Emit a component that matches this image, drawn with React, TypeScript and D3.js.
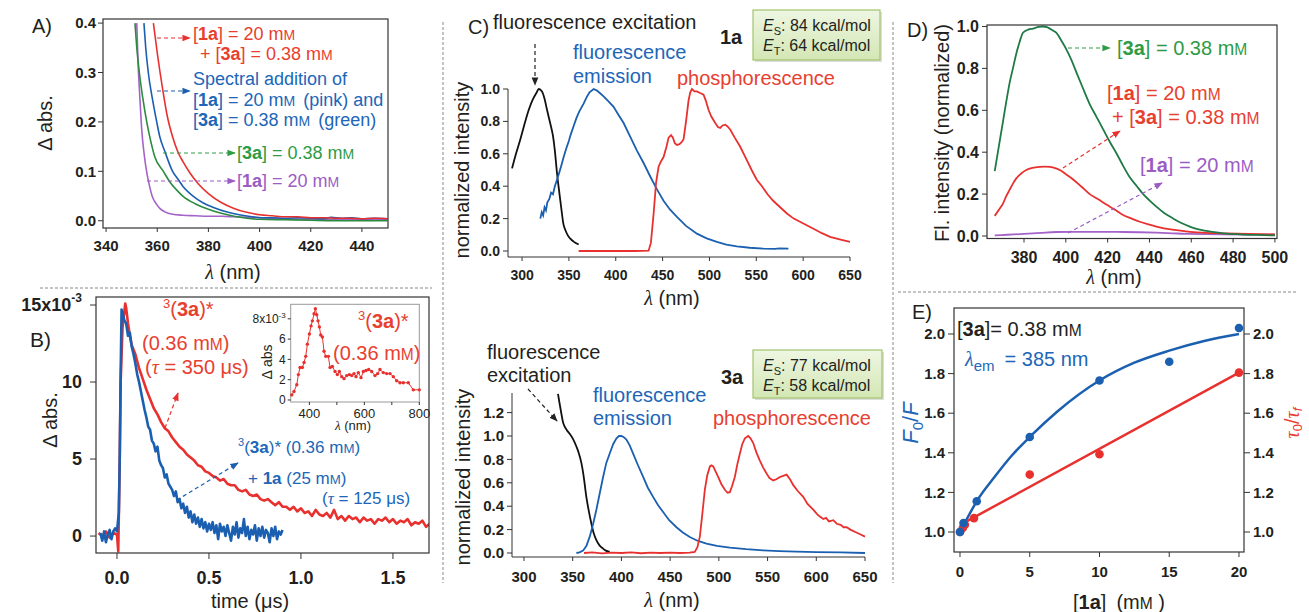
import React from 'react';
import * as d3 from 'd3';

type P = [number, number];

const FONT = "'Liberation Sans', Arial, Helvetica, sans-serif";
const RED = '#e8312f';
const BLUE = '#1b5fb0';
const GREEN = '#2b8c3e';
const DGREEN = '#1f7a45';
const PURPLE = '#a463c9';
const TRED = '#e8402f';
const TBLUE = '#2066b8';
const TGREEN = '#2f9b44';
const TPURPLE = '#9b5cc4';
const INK = '#231f20';

// ---------- Panel A : difference absorption ----------
const aTicksX = [340, 360, 380, 400, 420, 440];
const aTicksY = [0, 0.1, 0.2, 0.3, 0.4];
const aRed: P[] = [[358.5,0.4],[360,0.34],[362,0.27],[364,0.21],[366,0.17],[368,0.14],[370,0.12],[373,0.095],[376,0.075],[380,0.055],[385,0.037],[390,0.025],[395,0.017],[400,0.012],[405,0.01],[410,0.008],[415,0.008],[420,0.006],[425,0.006],[430,0.005],[435,0.005],[440,0.004],[445,0.005],[450,0.004]];
const aBlue: P[] = [[354.8,0.4],[355.5,0.35],[356.5,0.3],[358,0.25],[359.8,0.2],[361,0.17],[363,0.14],[366,0.1],[368,0.085],[370,0.07],[374,0.05],[378,0.036],[382,0.027],[387,0.018],[392,0.012],[397,0.008],[401,0.006],[405,0.006],[410,0.005],[415,0.006],[420,0.005],[425,0.004],[428,0.007],[432,0.005],[436,0.006],[440,0.004],[445,0.005],[450,0.004]];
const aGreen: P[] = [[351.3,0.4],[352,0.35],[353,0.3],[354.3,0.25],[355.9,0.2],[357.5,0.16],[359,0.13],[362.4,0.1],[365,0.078],[368,0.06],[370,0.05],[375,0.034],[380,0.023],[385,0.015],[390,0.009],[395,0.005],[400,0.003],[410,0.002],[420,0.001],[435,0.0],[450,0.0]];
const aPurple: P[] = [[352,0.4],[352.5,0.32],[353.2,0.25],[354,0.18],[355,0.13],[356,0.095],[357,0.07],[358,0.05],[359.5,0.035],[361,0.025],[363,0.018],[366,0.013],[370,0.011],[375,0.010],[380,0.009],[385,0.009],[390,0.008],[395,0.007],[400,0.006],[410,0.004],[420,0.003],[435,0.002],[450,0.002]];

// ---------- Panel B : transient decays ----------
const bTicksX = [0, 0.5, 1.0, 1.5];
const bTicksY = [0, 5, 10, 15];
const bRed: P[] = [[-0.1,0.2],[-0.08,0.0],[-0.06,0.3],[-0.04,-0.1],[-0.02,0.2],[0.0,0.1],[0.007,-1.0],[0.015,5.0],[0.02,10],[0.03,13.5],[0.045,15.1],[0.05,14.8],[0.06,13.8],[0.07,13.0],[0.08,12.4],[0.1,11.8],[0.12,10.9],[0.14,10.2],[0.16,9.5],[0.18,8.9],[0.2,8.3],[0.22,7.9],[0.24,7.4],[0.26,7.0],[0.28,6.8],[0.3,6.4],[0.32,6.1],[0.34,5.8],[0.36,5.6],[0.38,5.3],[0.4,5.1],[0.42,4.9],[0.44,4.6],[0.46,4.5],[0.48,4.2],[0.5,4.1],[0.52,3.9],[0.54,3.8],[0.56,3.6],[0.58,3.7],[0.6,3.4],[0.62,3.3],[0.64,3.3],[0.66,3.0],[0.68,2.9],[0.7,3.0],[0.72,2.7],[0.74,2.6],[0.76,2.7],[0.78,2.4],[0.8,2.3],[0.82,2.4],[0.84,2.2],[0.86,2.0],[0.88,2.2],[0.9,1.9],[0.92,1.9],[0.94,1.7],[0.96,1.9],[0.98,1.6],[1.0,1.8],[1.02,1.5],[1.04,1.6],[1.06,1.3],[1.08,1.7],[1.1,1.4],[1.12,1.3],[1.14,1.5],[1.16,1.2],[1.18,1.7],[1.2,1.1],[1.22,1.3],[1.24,1.0],[1.26,1.3],[1.28,1.1],[1.3,1.2],[1.32,0.9],[1.34,1.2],[1.36,1.0],[1.38,1.1],[1.4,0.8],[1.42,1.1],[1.44,1.0],[1.46,1.2],[1.48,0.9],[1.5,1.1],[1.52,0.8],[1.54,1.0],[1.56,0.9],[1.58,1.1],[1.6,0.7],[1.62,0.9],[1.64,0.8],[1.66,1.0],[1.68,0.6],[1.7,0.8]];
const bBlue: P[] = [[-0.09,0.2],[-0.08,-0.3],[-0.07,0.3],[-0.06,-0.4],[-0.05,0.1],[-0.04,0.4],[-0.03,-0.2],[-0.02,0.3],[-0.01,0.5],[0.0,0.3],[0.01,1.5],[0.015,5.0],[0.02,10.5],[0.025,14.7],[0.03,14.5],[0.04,14.0],[0.05,13.8],[0.06,13.0],[0.07,13.2],[0.08,12.3],[0.09,11.8],[0.1,11.2],[0.11,10.5],[0.12,10.0],[0.13,9.4],[0.14,8.8],[0.15,8.2],[0.16,7.7],[0.17,7.1],[0.18,6.9],[0.19,6.2],[0.2,6.0],[0.21,5.5],[0.22,5.8],[0.23,4.9],[0.24,4.6],[0.25,4.4],[0.26,3.8],[0.27,4.0],[0.28,3.4],[0.29,3.2],[0.3,3.0],[0.31,2.6],[0.32,2.9],[0.33,2.2],[0.34,2.4],[0.35,1.8],[0.36,2.1],[0.37,1.5],[0.38,1.9],[0.39,1.2],[0.4,1.6],[0.41,0.9],[0.42,1.4],[0.43,0.8],[0.44,1.2],[0.45,0.6],[0.46,1.1],[0.47,0.5],[0.48,0.9],[0.49,0.3],[0.5,0.8],[0.51,0.4],[0.52,0.9],[0.53,0.2],[0.54,0.7],[0.55,-0.2],[0.56,0.8],[0.57,0.3],[0.58,0.6],[0.59,0.0],[0.6,0.7],[0.61,0.2],[0.62,-0.3],[0.63,0.6],[0.64,0.1],[0.65,0.9],[0.66,-0.1],[0.67,0.5],[0.68,0.2],[0.69,1.1],[0.7,0.0],[0.71,0.6],[0.72,-0.2],[0.73,0.4],[0.74,0.1],[0.75,0.7],[0.76,-0.3],[0.77,0.5],[0.78,0.0],[0.79,0.6],[0.8,-0.1],[0.81,0.4],[0.82,0.2],[0.83,-0.4],[0.84,0.5],[0.85,0.0],[0.86,0.6],[0.87,-0.2],[0.88,0.3],[0.89,0.1],[0.9,0.4]];
// inset: transient spectrum
const iTicksX = [400, 500, 600, 700, 800];
const iTicksY = [0, 2, 4, 6, 8];
const iSpec: P[] = [[335.8,0.5],[344,0.83],[354,1.5],[360,2.5],[366,3.2],[374.5,3.2],[380.6,3.7],[386.7,4.3],[392.7,5.5],[400,6.5],[406,7.3],[410.9,7.8],[417,8.5],[421.8,9.0],[426.7,8.4],[431.5,7.8],[436.4,7.2],[441.2,6.4],[447.3,6.2],[453.3,4.8],[459.4,4.3],[469,4.3],[475.2,3.2],[483.6,3.3],[493.3,2.8],[501.8,2.5],[509,2.8],[517.6,2.3],[526,2.1],[535.8,2.4],[545.5,2.5],[554,2.4],[562.4,2.6],[569.7,2.3],[578.2,2.7],[587.9,2.2],[596.4,2.8],[606,2.9],[615.8,3.0],[626.7,2.8],[638.8,2.4],[648.5,2.6],[656.9,3.0],[669,2.7],[681.2,2.6],[693.3,2.6],[705.4,2.3],[717.6,1.9],[729.7,1.7],[741.8,1.7],[760,1.7],[778.2,1.0],[800,1.0]];

// ---------- Panel C : spectra of 1a (top) and 3a (bottom) ----------
const cTicksX = [300, 350, 400, 450, 500, 550, 600, 650];
const c1TicksY = [0, 0.2, 0.4, 0.6, 0.8, 1.0];
const c3TicksY = [0, 0.2, 0.4, 0.6, 0.8, 1.0, 1.2];
const c1Exc: P[] = [[289.3,0.51],[293,0.59],[298.2,0.69],[302,0.77],[307.1,0.87],[311,0.93],[315.3,0.975],[317.8,1.0],[321.3,0.985],[324,0.94],[326.7,0.87],[330,0.79],[333,0.71],[335,0.62],[337.3,0.48],[340,0.35],[342.6,0.23],[344,0.17],[346.2,0.13],[349,0.095],[351.5,0.076],[355,0.058],[360.4,0.04]];
const c1Em: P[] = [[319.5,0.20],[321,0.24],[322.5,0.22],[324,0.27],[325.5,0.25],[327,0.30],[329,0.32],[331,0.36],[333,0.35],[335,0.40],[337.3,0.44],[340,0.49],[342,0.53],[344.4,0.58],[347,0.63],[350,0.68],[352,0.72],[355,0.77],[358,0.82],[361,0.86],[365.7,0.91],[369,0.95],[372,0.98],[376.4,1.0],[380,0.99],[383,0.975],[387,0.955],[392,0.925],[397.7,0.89],[403,0.84],[408.4,0.79],[415,0.71],[422.6,0.62],[430,0.54],[436.8,0.46],[444,0.38],[451,0.31],[458,0.255],[465.3,0.21],[475,0.155],[486.6,0.107],[497,0.078],[507.9,0.056],[518,0.04],[529.2,0.029],[543,0.02],[557.6,0.015],[570,0.013],[575,0.016],[584.3,0.015]];
const c1Ph: P[] = [[360.4,0],[380,0],[400,0],[420,0],[435,0.002],[437.5,0.05],[440.4,0.23],[443,0.42],[445.7,0.52],[448,0.55],[451,0.58],[454,0.64],[456.4,0.70],[459,0.715],[461,0.70],[463,0.665],[465.3,0.655],[468,0.66],[470,0.67],[472.4,0.69],[475,0.8],[477.7,0.93],[479.5,0.98],[481.3,1.0],[484,0.985],[486.6,0.985],[490,0.975],[493.7,0.965],[496,0.93],[499.1,0.87],[502,0.83],[506.2,0.79],[509,0.765],[511.5,0.76],[514,0.775],[516.8,0.78],[519,0.77],[522.1,0.75],[527,0.70],[532.7,0.645],[540,0.56],[545,0.5],[550.5,0.44],[556,0.40],[562,0.35],[568,0.31],[575.4,0.27],[583,0.23],[590,0.2],[600.2,0.17],[610,0.14],[620,0.11],[628.7,0.087],[640,0.07],[650,0.056]];
const c3Exc: P[] = [[334.9,1.36],[336.5,1.28],[338.4,1.19],[340,1.12],[341.8,1.08],[344,1.05],[346.9,1.02],[350,0.98],[353.8,0.91],[356,0.86],[358.9,0.77],[361,0.67],[364,0.48],[366.5,0.36],[369.2,0.25],[371.5,0.17],[374.3,0.11],[377.5,0.065],[381.2,0.037],[384,0.02],[388,0.01]];
const c3Em: P[] = [[353.8,0],[357,0.005],[360.6,0.02],[364,0.06],[367.5,0.14],[371,0.25],[374.3,0.37],[377.5,0.5],[381.2,0.65],[384.5,0.77],[388,0.85],[391.5,0.93],[394.9,0.98],[397.5,1.0],[400,1.0],[402.5,0.99],[405.1,0.97],[408.5,0.92],[412,0.85],[417,0.75],[422.3,0.65],[427,0.56],[432.5,0.48],[437.5,0.41],[442.8,0.35],[449,0.28],[456.5,0.22],[463,0.175],[470.2,0.137],[478,0.105],[487.3,0.08],[498,0.06],[511.3,0.046],[528,0.033],[545.5,0.023],[562,0.016],[579.8,0.011],[600,0.008],[625,0.005],[650,0.0]];
const c3Ph: P[] = [[361.6,0.0],[370,0.005],[380,-0.003],[390,0.004],[400,0.0],[410,0.005],[420,-0.002],[430,0.003],[440,0.0],[450,0.004],[460,0.0],[470,0.003],[475.3,0.01],[478,0.05],[480.5,0.14],[483,0.33],[485.6,0.54],[488,0.66],[490.8,0.74],[492.5,0.75],[494.2,0.74],[496.5,0.70],[499.3,0.65],[502.5,0.59],[506.2,0.54],[509,0.515],[511.3,0.52],[513.5,0.57],[516.4,0.65],[519,0.76],[521.6,0.85],[524,0.93],[526.7,0.98],[530.1,1.0],[532.5,0.98],[535.3,0.94],[538.5,0.86],[542.1,0.79],[545.5,0.73],[549,0.68],[552,0.64],[555.8,0.62],[559,0.63],[562.7,0.65],[566,0.66],[569.5,0.67],[573,0.63],[576.4,0.58],[581,0.53],[586.6,0.48],[591,0.42],[596.9,0.37],[601,0.33],[604,0.31],[607.2,0.29],[610,0.3],[613,0.27],[617.5,0.28],[621,0.25],[625,0.24],[628,0.22],[631.2,0.22],[635,0.2],[640,0.18],[645,0.16],[650,0.14]];

// ---------- Panel D : fluorescence ----------
const dTicksX = [380, 400, 420, 440, 460, 480, 500];
const dTicksY = [0, 0.2, 0.4, 0.6, 0.8, 1.0];
const dGreen: P[] = [[366,0.31],[368,0.43],[370,0.55],[371.5,0.64],[373.1,0.73],[374.7,0.80],[376.3,0.87],[378,0.93],[379.5,0.97],[382,0.985],[384.3,0.99],[387,0.998],[389.1,1.0],[391,0.997],[392.3,0.99],[394,0.98],[395.5,0.97],[398,0.93],[400.3,0.89],[402.7,0.84],[405.1,0.78],[408,0.71],[411.4,0.63],[414.6,0.57],[417.8,0.51],[421,0.45],[424.2,0.395],[427.4,0.335],[430.6,0.28],[433.8,0.24],[437,0.20],[440,0.17],[443.3,0.14],[447,0.11],[451.3,0.084],[455,0.063],[459.3,0.045],[463,0.033],[467.3,0.024],[471,0.018],[475.3,0.013],[483.2,0.008],[491.2,0.005],[500,0.003]];
const dRed: P[] = [[366,0.096],[368,0.125],[370,0.156],[371.5,0.19],[373.1,0.22],[374.7,0.25],[376.3,0.275],[378.5,0.297],[381.1,0.315],[384,0.325],[387.5,0.33],[390,0.331],[392.3,0.33],[394.5,0.325],[397.1,0.315],[400,0.295],[403.5,0.27],[407.5,0.235],[411.4,0.20],[415.5,0.175],[419.4,0.15],[423.5,0.125],[427.4,0.10],[431.5,0.083],[435.4,0.068],[439.5,0.055],[443.3,0.045],[451,0.03],[459.3,0.02],[467,0.015],[475.3,0.013],[487,0.01],[500,0.008]];
const dPurple: P[] = [[366,0.003],[372,0.006],[380,0.01],[388,0.015],[395.5,0.019],[403,0.02],[411.4,0.02],[419,0.02],[427.4,0.019],[435,0.018],[443.3,0.016],[451,0.013],[459.3,0.01],[467,0.009],[475.3,0.008],[487,0.007],[500,0.006]];

// ---------- Panel E : Stern-Volmer ----------
const eTicksX = [0, 5, 10, 15, 20];
const eTicksY = [1.0, 1.2, 1.4, 1.6, 1.8, 2.0];
const eBlueConc = [0, 0.25, 1.2, 5, 10, 15, 20];
const eBlueF0F = [1.0, 1.045, 1.155, 1.48, 1.765, 1.86, 2.03];
const eRedConc = [0, 0.2, 0.35, 1, 5, 10, 20];
const eRedTau = [1.0, 1.02, 1.037, 1.07, 1.29, 1.393, 1.805];
const eBlueFit: P[] = [[0.3,1.04],[1.24,1.16],[2.5,1.28],[3.7,1.385],[5,1.48],[7,1.61],[10,1.765],[12.5,1.855],[15,1.916],[17.5,1.965],[20,2.0]];
const eRedFit: P[] = [[0.25,1.045],[20,1.805]];

const f1 = d3.format('.1f');
const f0 = d3.format('d');

function pathOf(xs: any, ys: any, data: P[], curve: any = d3.curveLinear) {
  return d3.line<P>().x(d => xs(d[0])).y(d => ys(d[1])).curve(curve)(data) || '';
}

function Bd({ children }: any) { return <tspan fontWeight="bold">{children}</tspan>; }
function MM() { return <><tspan>m</tspan><tspan fontSize="78%">M</tspan></>; }

function YTicks({ scale, values, x, fmt, size = 15, len = 5, side = 'left', bold = true, gap = 3 }: any) {
  return (
    <g>
      {values.map((v: number) => {
        const yy = scale(v);
        const left = side === 'left';
        return (
          <g key={v}>
            <line x1={left ? x - len : x} x2={left ? x : x + len} y1={yy} y2={yy} stroke="#333" strokeWidth={1} />
            <text x={left ? x - len - gap : x + len + gap} y={yy} dy="0.35em" textAnchor={left ? 'end' : 'start'}
              fontSize={size} fontWeight={bold ? 'bold' : 'normal'} fill={INK}>{fmt(v)}</text>
          </g>
        );
      })}
    </g>
  );
}

function XTicks({ scale, values, y, fmt, size = 15, len = 5, labelY, bold = true, show }: any) {
  return (
    <g>
      {values.map((v: number) => {
        const xx = scale(v);
        const lab = show ? show(v) : true;
        return (
          <g key={v}>
            <line x1={xx} x2={xx} y1={y} y2={y + len} stroke="#333" strokeWidth={1} />
            {lab && <text x={xx} y={labelY} dy="0.35em" textAnchor="middle" fontSize={size}
              fontWeight={bold ? 'bold' : 'normal'} fill={INK}>{fmt(v)}</text>}
          </g>
        );
      })}
    </g>
  );
}

function Arrow({ x1, y1, x2, y2, color, id }: any) {
  return <line x1={x1} y1={y1} x2={x2} y2={y2} stroke={color} strokeWidth={1.2} strokeDasharray="4,3" markerEnd={`url(#${id})`} />;
}

function Lam() { return <tspan fontFamily="'Liberation Serif', serif" fontStyle="italic">λ</tspan>; }

function Label({ x, y, children, size = 20, color = INK, anchor = 'start', rotate = 0, weight = 'normal', style = 'normal' }: any) {
  return (
    <text transform={`translate(${x},${y}) rotate(${rotate})`} dy="0.35em" textAnchor={anchor} fontSize={size}
      fill={color} fontWeight={weight} fontStyle={style}>{children}</text>
  );
}

function EBox({ x, y, w, h, es, et }: any) {
  return (
    <g>
      <rect x={x + 2} y={y + 2} width={w} height={h} fill="#c8c8c8" opacity={0.6} />
      <rect x={x} y={y} width={w} height={h} fill="url(#gbox)" stroke="#a3c46c" strokeWidth={1.2} />
      <text x={x + 10} y={y + 15} dy="0.35em" fontSize={16} fill={INK}>
        <tspan fontStyle="italic">E</tspan><tspan fontSize={11} dy={4}>S</tspan><tspan dy={-4}>: {es} kcal/mol</tspan>
      </text>
      <text x={x + 10} y={y + 35} dy="0.35em" fontSize={16} fill={INK}>
        <tspan fontStyle="italic">E</tspan><tspan fontSize={11} dy={4}>T</tspan><tspan dy={-4}>: {et} kcal/mol</tspan>
      </text>
    </g>
  );
}

export default function App() {
  // scales
  const xA = d3.scaleLinear().domain([338.8, 450.2]).range([103, 388]);
  const yA = d3.scaleLinear().domain([-0.0147, 0.4083]).range([228, 19]);
  const xB = d3.scaleLinear().domain([-0.114, 1.696]).range([96, 429]);
  const yB = d3.scaleLinear().domain([-1.1, 15.52]).range([553, 297]);
  const xI = d3.scaleLinear().domain([332, 800]).range([290.7, 419.3]);
  const yI = d3.scaleLinear().domain([-0.2, 9.43]).range([402, 304.3]);
  const xC1 = d3.scaleLinear().domain([285, 650]).range([508, 850]);
  const yC1 = d3.scaleLinear().domain([0, 1]).range([251, 89]);
  const xC3 = d3.scaleLinear().domain([287.7, 650]).range([512, 865]);
  const yC3 = d3.scaleLinear().domain([0, 1]).range([553, 436]);
  const xD = d3.scaleLinear().domain([362.3, 501]).range([987, 1277]);
  const yD = d3.scaleLinear().domain([0, 1]).range([236, 26.5]);
  const xE = d3.scaleLinear().domain([-0.43, 20.36]).range([954, 1244]);
  const yE = d3.scaleLinear().domain([1, 2]).range([532, 334]);

  const markers: [string, string][] = [['ar', RED], ['ab', BLUE], ['ag', TGREEN], ['ap', TPURPLE], ['ak', '#222']];

  return (
    <svg width={1309} height={612} style={{ position: 'absolute', left: 0, top: 0, background: '#fff' }}
      fontFamily={FONT}>
      <defs>
        {markers.map(([id, c]) => (
          <marker key={id} id={id} viewBox="0 0 10 10" refX="9" refY="5" markerWidth="7" markerHeight="7" orient="auto">
            <path d="M0,1 L10,5 L0,9 z" fill={c} />
          </marker>
        ))}
        <linearGradient id="gbox" x1="0" y1="0" x2="0" y2="1">
          <stop offset="0" stopColor="#eef6e2" />
          <stop offset="1" stopColor="#d3e7b4" />
        </linearGradient>
        <clipPath id="clipA"><rect x={103} y={19} width={285} height={209} /></clipPath>
        <clipPath id="clipB"><rect x={96} y={297} width={333} height={256} /></clipPath>
        <clipPath id="clipD"><rect x={987} y={25} width={290} height={213.5} /></clipPath>
      </defs>
      <rect x={0} y={0} width={1309} height={612} fill="#fff" />

      {/* separators */}
      <line x1={40} x2={432} y1={288} y2={288} stroke="#888" strokeDasharray="3,2" />
      <line x1={898} x2={1298} y1={292} y2={292} stroke="#888" strokeDasharray="3,2" />
      <line x1={443} x2={443} y1={22} y2={583} stroke="#888" strokeDasharray="3,2" />
      <line x1={893} x2={893} y1={22} y2={583} stroke="#888" strokeDasharray="3,2" />

      {/* ===== Panel A ===== */}
      <g>
        <g clipPath="url(#clipA)" fill="none" strokeWidth={1.6}>
          <path d={pathOf(xA, yA, aPurple, d3.curveMonotoneX)} stroke={PURPLE} />
          <path d={pathOf(xA, yA, aGreen, d3.curveMonotoneX)} stroke={GREEN} />
          <path d={pathOf(xA, yA, aBlue, d3.curveMonotoneX)} stroke={BLUE} />
          <path d={pathOf(xA, yA, aRed, d3.curveMonotoneX)} stroke={RED} />
        </g>
        <rect x={103} y={19} width={285} height={209} fill="none" stroke="#333" strokeWidth={1.2} />
        <YTicks scale={yA} values={aTicksY} x={103} fmt={f1} size={15} len={5} gap={2} />
        <XTicks scale={xA} values={aTicksX} y={228} fmt={f0} size={15} len={4} labelY={246} />
        <Label x={32} y={26}>A)</Label>
        <Label x={45} y={123} rotate={-90} anchor="middle">Δ abs.</Label>
        <Label x={233} y={272} anchor="middle"><Lam /> (nm)</Label>

        <Arrow x1={157} y1={38} x2={190} y2={38} color={RED} id="ar" />
        <Label x={193} y={34} size={18} color={TRED}>[<Bd>1a</Bd>] = 20 <MM /></Label>
        <Label x={200} y={54} size={18} color={TRED}>+ [<Bd>3a</Bd>] = 0.38 <MM /></Label>
        <Arrow x1={157} y1={91} x2={190} y2={91} color={BLUE} id="ab" />
        <Label x={193} y={79} size={18} color={TBLUE}>Spectral addition of</Label>
        <Label x={193} y={100} size={18} color={TBLUE}>[<Bd>1a</Bd>] = 20 <MM /><tspan dx={8}>(pink) and</tspan></Label>
        <Label x={193} y={120} size={18} color={TBLUE}>[<Bd>3a</Bd>] = 0.38 <MM /><tspan dx={8}>(green)</tspan></Label>
        <Arrow x1={163} y1={153} x2={235} y2={153} color={TGREEN} id="ag" />
        <Label x={237} y={153} size={18} color={TGREEN}>[<Bd>3a</Bd>] = 0.38 <MM /></Label>
        <Arrow x1={147} y1={181} x2={235} y2={181} color={TPURPLE} id="ap" />
        <Label x={237} y={181} size={18} color={TPURPLE}>[<Bd>1a</Bd>] = 20 <MM /></Label>
      </g>

      {/* ===== Panel B ===== */}
      <g>
        <g clipPath="url(#clipB)" fill="none" strokeWidth={2.6} strokeLinejoin="round">
          <path d={pathOf(xB, yB, bRed)} stroke={RED} />
          <path d={pathOf(xB, yB, bBlue)} stroke={BLUE} />
        </g>
        <rect x={96} y={297} width={333} height={256} fill="none" stroke="#333" strokeWidth={1.2} />
        <YTicks scale={yB} values={bTicksY} x={96} size={18} len={6} gap={8}
          fmt={(v: number) => v === 15 ? <>15x10<tspan fontSize={12} dy={-9}>-3</tspan></> : f0(v)} />
        <XTicks scale={xB} values={bTicksX} y={553} fmt={f1} size={18} len={6} labelY={578} />
        <Label x={30} y={340} size={21}>B)</Label>
        <Label x={50} y={420} rotate={-90} anchor="middle">Δ abs.</Label>
        <Label x={250} y={601} anchor="middle">time (μs)</Label>

        <Label x={163} y={316} size={20} color={TRED}><tspan fontSize={13} dy={-8}>3</tspan><tspan dy={8}>(</tspan><Bd>3a</Bd>)*</Label>
        <Label x={142} y={343} size={20} color={TRED}>(0.36 <MM />)</Label>
        <Label x={145} y={367} size={20} color={TRED}>(<tspan fontFamily="'Liberation Serif', serif" fontStyle="italic">τ</tspan> = 350 μs)</Label>
        <Arrow x1={165} y1={428} x2={178} y2={393} color={RED} id="ar" />

        <Label x={238} y={453} size={17} color={TBLUE}><tspan fontSize={11} dy={-7}>3</tspan><tspan dy={7}>(</tspan><Bd>3a</Bd>)* (0.36 <MM />)</Label>
        <Label x={248} y={478} size={17} color={TBLUE}>+ <tspan dx={4}></tspan><Bd>1a</Bd> (25 <MM />)</Label>
        <Label x={322} y={498} size={17} color={TBLUE}>(<tspan fontFamily="'Liberation Serif', serif" fontStyle="italic">τ</tspan> = 125 μs)</Label>
        <Arrow x1={177} y1={500} x2={238} y2={463} color={BLUE} id="ab" />

        {/* inset */}
        <rect x={290.7} y={304.3} width={128.6} height={97.7} fill="#fff" stroke="#999" strokeWidth={1} />
        <path d={pathOf(xI, yI, iSpec)} fill="none" stroke={RED} strokeWidth={1} />
        {iSpec.map((d, i) => <circle key={i} cx={xI(d[0])} cy={yI(d[1])} r={1.7} fill={RED} />)}
        <YTicks scale={yI} values={iTicksY} x={290.7} size={12} len={3} gap={2} bold={false}
          fmt={(v: number) => v === 8 ? <>8x10<tspan fontSize={8} dy={-5}>-3</tspan></> : f0(v)} />
        <XTicks scale={xI} values={iTicksX} y={402} fmt={f0} size={13} len={3} labelY={413} bold={false}
          show={(v: number) => v % 200 === 0} />
        <Label x={267} y={362} size={14} rotate={-90} anchor="middle">Δ abs</Label>
        <Label x={353} y={425} size={13} anchor="middle"><Lam /> (nm)</Label>
        <Label x={358} y={328} size={20} color={TRED}><tspan fontSize={13} dy={-8}>3</tspan><tspan dy={8}>(</tspan><Bd>3a</Bd>)*</Label>
        <Label x={333} y={353} size={20} color={TRED}>(0.36 <MM />)</Label>
      </g>

      {/* ===== Panel C top (1a) ===== */}
      <g>
        <g fill="none" strokeWidth={1.8}>
          <path d={pathOf(xC1, yC1, c1Exc, d3.curveMonotoneX)} stroke="#111" />
          <path d={pathOf(xC1, yC1, c1Em)} stroke={BLUE} />
          <path d={pathOf(xC1, yC1, c1Ph)} stroke={RED} />
        </g>
        <line x1={508} x2={508} y1={89} y2={257} stroke="#333" />
        <line x1={508} x2={850} y1={257} y2={257} stroke="#333" />
        <YTicks scale={yC1} values={c1TicksY} x={508} fmt={f1} size={14} len={5} gap={3} />
        <XTicks scale={xC1} values={cTicksX} y={257} fmt={f0} size={14} len={4} labelY={275} />
        <Label x={468} y={27}>C)</Label>
        <Label x={462} y={170} rotate={-90} anchor="middle">normalized intensity</Label>
        <Label x={672} y={298} anchor="middle"><Lam /> (nm)</Label>
        <Label x={493} y={22}>fluorescence excitation</Label>
        <Arrow x1={535} y1={44} x2={535} y2={85} color="#222" id="ak" />
        <Label x={573} y={52} color={TBLUE}>fluorescence</Label>
        <Label x={573} y={76} color={TBLUE}>emission</Label>
        <Label x={677} y={78} color={TRED}>phosphorescence</Label>
        <Label x={720} y={37} weight="bold">1a</Label>
        <EBox x={753} y={10} w={127} h={50} es={84} et={64} />
      </g>

      {/* ===== Panel C bottom (3a) ===== */}
      <g>
        <g fill="none" strokeWidth={1.8}>
          <path d={pathOf(xC3, yC3, c3Exc, d3.curveMonotoneX)} stroke="#111" />
          <path d={pathOf(xC3, yC3, c3Em)} stroke={BLUE} />
          <path d={pathOf(xC3, yC3, c3Ph)} stroke={RED} />
        </g>
        <line x1={512} x2={512} y1={393} y2={557} stroke="#333" />
        <line x1={512} x2={865} y1={557} y2={557} stroke="#333" />
        <YTicks scale={yC3} values={c3TicksY} x={512} fmt={f1} size={15} len={5} gap={3} />
        <XTicks scale={xC3} values={cTicksX} y={557} fmt={f0} size={15} len={4} labelY={577} />
        <Label x={463} y={477} rotate={-90} anchor="middle">normalized intensity</Label>
        <Label x={672} y={600} anchor="middle"><Lam /> (nm)</Label>
        <Label x={487} y={352}>fluorescence</Label>
        <Label x={487} y={375}>excitation</Label>
        <Arrow x1={528} y1={389} x2={557} y2={421} color="#222" id="ak" />
        <Label x={593} y={395} color={TBLUE}>fluorescence</Label>
        <Label x={593} y={418} color={TBLUE}>emission</Label>
        <Label x={713} y={418} color={TRED}>phosphorescence</Label>
        <Label x={721} y={377} weight="bold">3a</Label>
        <EBox x={753} y={350} w={129} h={48} es={77} et={58} />
      </g>

      {/* ===== Panel D ===== */}
      <g>
        <g clipPath="url(#clipD)" fill="none" strokeWidth={1.8}>
          <path d={pathOf(xD, yD, dPurple, d3.curveMonotoneX)} stroke={PURPLE} />
          <path d={pathOf(xD, yD, dRed, d3.curveMonotoneX)} stroke={RED} />
          <path d={pathOf(xD, yD, dGreen, d3.curveMonotoneX)} stroke={DGREEN} />
        </g>
        <rect x={987} y={25} width={290} height={213.5} fill="none" stroke="#333" strokeWidth={1.2} />
        <YTicks scale={yD} values={dTicksY} x={987} fmt={f1} size={16} len={5} gap={3} />
        <XTicks scale={xD} values={dTicksX} y={238.5} fmt={f0} size={16} len={4} labelY={257} />
        <Label x={907} y={30}>D)</Label>
        <Label x={942} y={133} rotate={-90} anchor="middle">Fl. intensity (normalized)</Label>
        <Label x={1114} y={277} anchor="middle"><Lam /> (nm)</Label>

        <Arrow x1={1068} y1={48} x2={1110} y2={48} color={TGREEN} id="ag" />
        <Label x={1117} y={48} color={TGREEN}>[<Bd>3a</Bd>] = 0.38 <MM /></Label>
        <Label x={1107} y={93} color={TRED}>[<Bd>1a</Bd>] = 20 <MM /></Label>
        <Label x={1112} y={117} color={TRED}>+ [<Bd>3a</Bd>] = 0.38 <MM /></Label>
        <Arrow x1={1063} y1={168} x2={1120} y2={131} color={RED} id="ar" />
        <Label x={1140} y={165} color={TPURPLE}>[<Bd>1a</Bd>] = 20 <MM /></Label>
        <Arrow x1={1068} y1={233} x2={1162} y2={183} color={TPURPLE} id="ap" />
      </g>

      {/* ===== Panel E ===== */}
      <g>
        <rect x={954} y={308} width={290} height={244} fill="none" stroke="#333" strokeWidth={1.2} />
        <path d={pathOf(xE, yE, eBlueFit, d3.curveMonotoneX)} fill="none" stroke={BLUE} strokeWidth={2.5} />
        <path d={pathOf(xE, yE, eRedFit)} fill="none" stroke={RED} strokeWidth={2.5} />
        {eRedConc.map((c, i) => <circle key={'r' + i} cx={xE(c)} cy={yE(eRedTau[i])} r={4.3} fill={RED} />)}
        {eBlueConc.map((c, i) => <circle key={'b' + i} cx={xE(c)} cy={yE(eBlueF0F[i])} r={4.3} fill={BLUE} />)}
        <YTicks scale={yE} values={eTicksY} x={954} fmt={f1} size={15} len={6} gap={3} />
        <YTicks scale={yE} values={eTicksY} x={1244} fmt={f1} size={15} len={6} gap={3} side="right" />
        <XTicks scale={xE} values={eTicksX} y={552} fmt={f0} size={15} len={5} labelY={572} />
        <Label x={912} y={312}>E)</Label>
        <Label x={910} y={423} rotate={-90} anchor="middle" size={22} color={TBLUE}>
          <tspan fontStyle="italic">F</tspan><tspan fontSize={15} dy={5}>0</tspan><tspan dy={-5}>/</tspan><tspan fontStyle="italic">F</tspan>
        </Label>
        <Label x={1292} y={423} rotate={-90} anchor="middle" size={20} color={TRED}>
          <tspan fontFamily="'Liberation Serif', serif" fontStyle="italic">τ</tspan><tspan fontSize={13} dy={3}>0</tspan><tspan dy={-3}>/</tspan><tspan fontFamily="'Liberation Serif', serif" fontStyle="italic">τ</tspan><tspan fontSize={13} dy={3} fontStyle="italic">f</tspan>
        </Label>
        <Label x={1119} y={602} anchor="middle">[<Bd>1a</Bd>]<tspan dx={10}>(</tspan><MM /> )</Label>
        <Label x={957} y={329}>[<Bd>3a</Bd>]= 0.38 <MM /></Label>
        <Label x={965} y={359} color={TBLUE}><Lam /><tspan fontSize={15} dy={5}>em</tspan><tspan dy={-5} dx={10}>= 385 nm</tspan></Label>
      </g>
    </svg>
  );
}
